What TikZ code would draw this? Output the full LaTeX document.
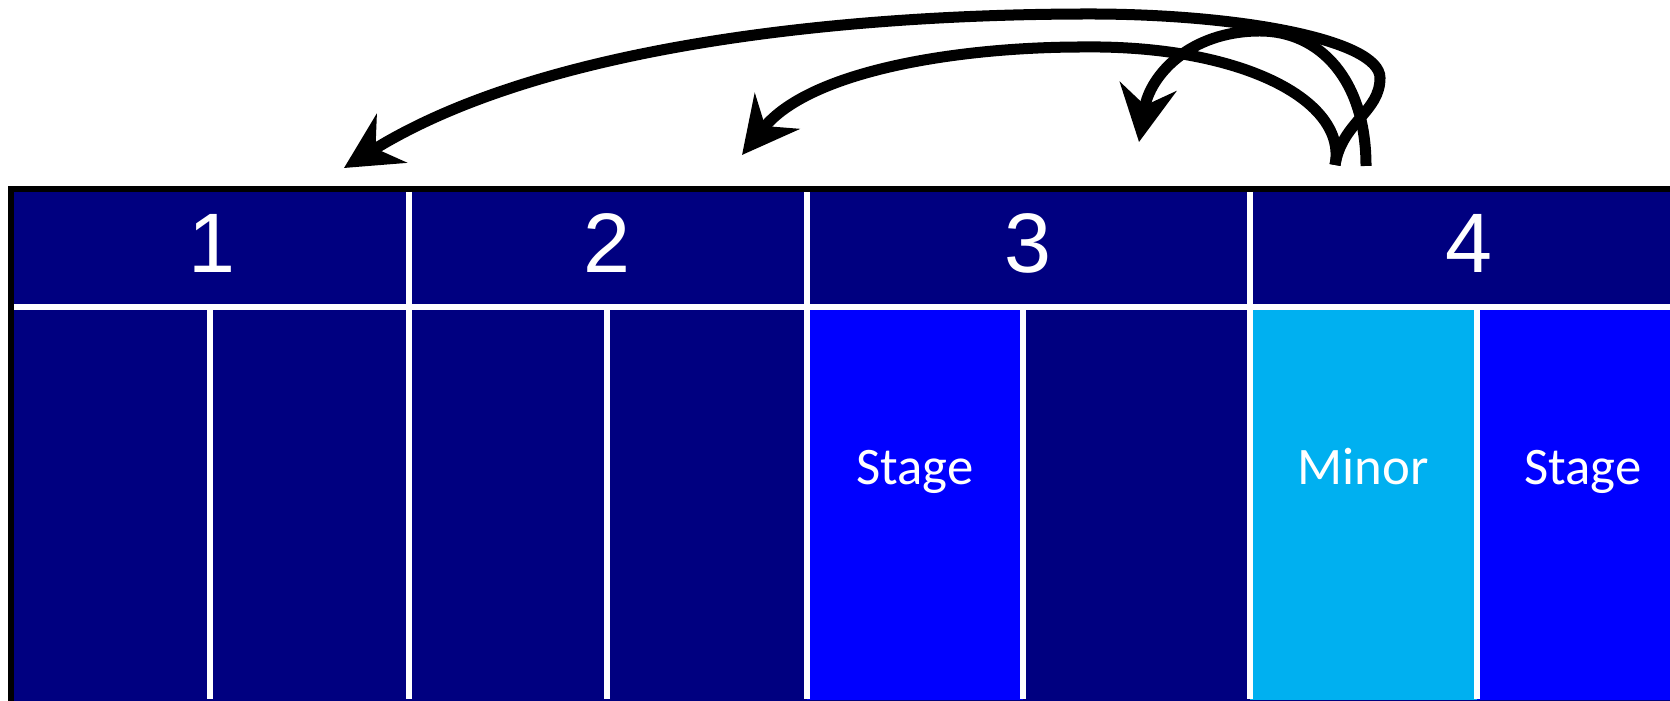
\documentclass[tikz,border=0pt]{standalone}
\usepackage{fontspec}
\setmainfont{Liberation Sans}
\newfontfamily\cellfont{Carlito}
\usepackage{tikz}
\usetikzlibrary{arrows.meta}

\definecolor{navycell}{RGB}{0,0,128}
\definecolor{stagecell}{RGB}{0,0,255}
\definecolor{minorcell}{RGB}{0,176,240}

\begin{document}
\begin{tikzpicture}[x=0.01cm, y=-0.01cm,
	gridline/.style={white, line width=0.06cm},
	hop/.style={-{Stealth[length=0.56cm, width=0.57cm, inset=0.19cm]}, line width=0.11cm, black},
	numlabel/.style={white, anchor=base, font=\fontsize{24}{24}\selectfont},
	celllabel/.style={white, anchor=base, font=\cellfont\fontsize{15}{15}\selectfont}]
	\useasboundingbox (0,0) rectangle (1670,701);
	\clip (0,0) rectangle (1670,701);
	
	% Table body
	\filldraw[fill=navycell, draw=black, line width=0.06cm] (11,189) rectangle (1720,704);
	\fill[stagecell] (807,307) rectangle (1023,700);
	\fill[minorcell] (1250,307) rectangle (1477,700);
	\fill[stagecell] (1477,307) rectangle (1720,700);
	
	% Grid lines
	\draw[gridline] (14,307) -- (1720,307);
	\foreach \x in {409,807,1250} {
		\draw[gridline] (\x,192) -- (\x,699);
	}
	\foreach \x in {210,607,1023,1477} {
		\draw[gridline] (\x,307) -- (\x,699);
	}
	
	% Numbers
	\node[numlabel] (num1) at (212,273) {1};
	\node[numlabel] (num2) at (607,273) {2};
	\node[numlabel] (num3) at (1028,273) {3};
	\node[numlabel] (num4) at (1469,273) {4};
	
	% Cell texts
	\node[celllabel] (stagethree) at (915,485) {Stage};
	\node[celllabel] (minorfour) at (1363,485) {Minor};
	\node[celllabel] (stagefour) at (1583,485) {Stage};
	
	% Arrows
	\coordinate (from12) at (1335,165);
	\coordinate (from3) at (1366,166);
	\coordinate (to1) at (344,168);
	\coordinate (to2) at (742,155);
	\coordinate (to3) at (1139,142);
	\draw[hop] (from12) .. controls (1342,122) and (1380,112) .. (1380,78)
		.. controls (1380,40) and (1240,14) .. (1090,14)
		.. controls (850,14) and (544,44) .. (to1);
	\draw[hop] (from12) .. controls (1348,100) and (1240,45) .. (1083,47)
		.. controls (960,47) and (810,70) .. (to2);
	\draw[hop] (from3) .. controls (1366,80) and (1320,31) .. (1260,31)
		.. controls (1190,31) and (1150,75) .. (to3);
\end{tikzpicture}
\end{document}
